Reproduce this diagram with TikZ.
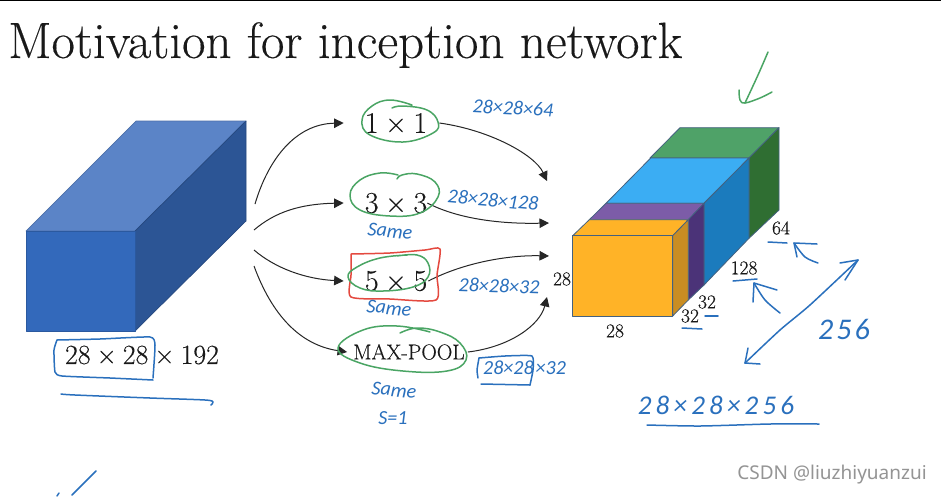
\documentclass[tikz,border=0pt]{standalone}
\usepackage{fontspec}
\usetikzlibrary{arrows.meta}
\setmainfont{Latin Modern Roman}[FakeBold=0.25]
\newfontfamily\handf{Carlito}
\newfontfamily\markf{Noto Sans}
\definecolor{hblue}{HTML}{2A70BD}
\definecolor{hgreen}{HTML}{4AA564}
\definecolor{hred}{HTML}{E4493F}
\definecolor{intop}{HTML}{5B84C7}
\definecolor{inside}{HTML}{2C5595}
\definecolor{infront}{HTML}{3369BB}
\definecolor{gtop}{HTML}{4FA268}
\definecolor{gside}{HTML}{2F6E32}
\definecolor{btop}{HTML}{3BADF3}
\definecolor{bside}{HTML}{1B7BBD}
\definecolor{ptop}{HTML}{7C5CA8}
\definecolor{pside}{HTML}{4B3378}
\definecolor{otop}{HTML}{FFB327}
\definecolor{oside}{HTML}{C98D23}
\definecolor{edgeblue}{HTML}{44617F}
\newcommand{\fs}[1]{\fontsize{#1}{#1}\selectfont}
\newcommand{\tm}{\kern.22em×\kern.22em}
\tikzset{
  face/.style={draw=#1!85!black,fill=#1,line width=.7pt,line join=round},
  edgeface/.style={draw=edgeblue,fill=#1,line width=.8pt,line join=round},
  opnode/.style={inner sep=0pt,font=\fs{30},text=black!90},
  dim/.style={inner sep=0pt,font=\fs{19.5},text=black!90},
  conn/.style={draw=black!85,line width=1pt,-{Triangle[length=9.5pt,width=9.5pt]}},
  hand/.style={inner sep=0pt,text=hblue,font=\handf\itshape\fs{#1}},
  bluestroke/.style={draw=hblue,line width=1.5pt,line cap=round,line join=round},
  greenstroke/.style={draw=hgreen,line width=1.5pt,line cap=round,line join=round},
  redstroke/.style={draw=hred,line width=1.5pt,line cap=round,line join=round},
}
\begin{document}
\begin{tikzpicture}[x=1pt,y=-1pt]
\useasboundingbox (0,0) rectangle (941,496);
\fill[white] (0,0) rectangle (941,496);
\draw[black,line width=1.6pt] (0,.6) -- (941,.6);
\node[anchor=base west,inner sep=0pt,font=\fs{51},text=black!90] (title) at (8,58) {Motivation for inception network};

% input block
\path[face=intop] (26,231) -- (136,121) -- (246,121) -- (135,231) -- cycle;
\path[face=inside] (135,231) -- (246,121) -- (246,221) -- (135,331) -- cycle;
\path[face=infront] (26,231) rectangle (135,331);
\node[inner sep=0pt,font=\fs{27.8},text=black!90] (inlabel) at (142,355) {28\tm28\tm192};

% output block
\path[edgeface=gtop] (650,158) -- (680,127.7) -- (779,127.7) -- (749,158) -- cycle;
\path[edgeface=gside] (749,158) -- (779,127.7) -- (779,210) -- (749,238.3) -- cycle;
\path[edgeface=btop] (606,203.3) -- (650.7,158) -- (749,158) -- (704,203.3) -- cycle;
\path[edgeface=bside] (704,203.3) -- (749,158) -- (749,238.3) -- (704,285) -- cycle;
\path[edgeface=ptop] (589.3,219.7) -- (606,203.3) -- (704,203.3) -- (688.3,219.7) -- cycle;
\path[edgeface=pside] (688.3,219.7) -- (704,203.3) -- (704,285) -- (688.3,300) -- cycle;
\path[edgeface=otop] (572.7,235.7) -- (589.3,219.7) -- (688.3,219.7) -- (672.7,235.7) -- cycle;
\path[edgeface=oside] (672.7,235.7) -- (688.3,219.7) -- (688.3,300) -- (672.7,316) -- cycle;
\path[edgeface=otop] (572.7,235.7) rectangle (672.7,316);

\node[dim] (d28a) at (562,279) {28};
\node[dim] (d28b) at (615,331) {28};
\node[dim] (d32a) at (690,316) {32};
\node[dim] (d32b) at (707,302) {32};
\node[dim] (d128) at (744,268) {128};
\node[dim] (d64) at (781,228) {64};

% operations
\node[opnode,inner xsep=12pt] (n1) at (396,123) {1\tm1};
\node[opnode] (n3) at (396,203) {3\tm3};
\node[opnode,inner xsep=1pt] (n5) at (396,281) {5\tm5};
\node[opnode,font=\fs{21.5},inner xsep=3pt] (mp) at (409,352) {MAX-POOL};

% connectors
\coordinate (s1) at (255,204);
\coordinate (s2) at (254,230);
\coordinate (s3) at (254,250);
\coordinate (s4) at (254,266);
\coordinate (e1) at (547,181);
\coordinate (e2) at (549,223);
\coordinate (e3) at (549,256);
\coordinate (e4) at (547,297);
\draw[conn] (s1) .. controls (268,160) and (295,124) .. ([xshift=-9pt]n1.west);
\draw[conn] (s2) .. controls (275,212) and (300,204) .. ([xshift=-21pt]n3.west);
\draw[conn] (s3) .. controls (275,268) and (305,279) .. ([xshift=-20pt]n5.west);
\draw[conn] (s4) .. controls (272,315) and (300,345) .. ([xshift=-3pt]mp.west);
\draw[conn] (n1.east) .. controls (490,130) and (535,155) .. (e1);
\draw[conn] (n3.east) .. controls (460,220) and (505,224) .. (e2);
\draw[conn] (n5.east) .. controls (465,262) and (510,255) .. (e3);
\draw[conn] (mp.east) .. controls (510,347) and (540,325) .. (e4);

% red and green hand marks
\draw[redstroke] plot[smooth,tension=.4] coordinates {(351,254) (351,275) (351,297) (390,299) (436,300) (437,275) (440,249) (425,250) (390,253) (351,254)};
\draw[greenstroke] plot[smooth,tension=.7] coordinates {(412,105) (390,100) (372,106) (362,120) (370,135) (403,142) (433,133) (438,122) (427,110) (403,106) (392,108)};
\draw[greenstroke] plot[smooth,tension=.7] coordinates {(398,175) (380,173) (360,180) (350,195) (360,210) (390,216) (420,213) (438,197) (435,182) (417,174) (402,175) (397,179)};
\draw[greenstroke] plot[smooth,tension=.7] coordinates {(407,255) (380,258) (357,267) (348,277) (360,288) (383,291) (413,287) (428,277) (428,263) (417,255) (397,256)};
\draw[greenstroke] plot[smooth,tension=.7] coordinates {(430,332) (397,326) (363,330) (338,348) (360,363) (403,371) (447,371) (466,360) (460,343) (440,332) (417,328) (400,333)};
\draw[greenstroke] plot[smooth,tension=.6] coordinates {(768,52) (758,75) (745,103)};
\draw[greenstroke] plot[smooth,tension=.6] coordinates {(739,90) (740,100) (745,103) (760,98) (772,92)};

% handwritten labels
\node[hand=20,rotate=-3] (h1) at (513,108) {28×28×64};
\node[hand=20,rotate=-5] (h2) at (493,200) {28×28×128};
\node[hand=20,rotate=-6] (sa) at (390,231) {Same};
\node[hand=20,rotate=-6] (sb) at (389,308) {Same};
\node[hand=20,rotate=-2] (h3) at (499,286) {28×28×32};
\node[hand=20] (h4) at (524,368) {\kern1pt 28×28\kern2pt ×32};
\node[hand=20,rotate=-6] (sc) at (394,390) {Same};
\node[hand=20] (s1l) at (393,418) {S=1};
\node[hand=30] (h256) at (844,329) {2\kern3pt 5\kern3pt 6};
\node[hand=27] (htot) at (716,405) {2\kern4.2pt8\kern4.2pt×\kern4.2pt2\kern4.2pt8\kern4.2pt×\kern4.2pt2\kern4.2pt5\kern4.2pt6};
\node[inner sep=0pt,text=black!42,font=\markf\fs{19}] (mark) at (832,475) {CSDN @liuzhiyuanzui};

% blue hand marks
\draw[bluestroke] plot[smooth,tension=.3] coordinates {(57,340) (100,339) (150,337) (155,345) (153,378)};
\draw[bluestroke] plot[smooth,tension=.3] coordinates {(57,340) (54,350) (55,372) (62,376) (110,378) (153,380)};
\draw[bluestroke] plot[smooth,tension=.5] coordinates {(61,394) (75,395) (150,398) (205,400) (213,402) (211,405)};
\draw[bluestroke] (96,471) -- (72,495);
\draw[bluestroke] (59,493) -- (57,496);
\draw[bluestroke] plot[smooth,tension=.3] coordinates {(479,358) (505,356) (532,356) (533,370) (530,385)};
\draw[bluestroke] plot[smooth,tension=.3] coordinates {(479,358) (477,370) (478,378)};
\draw[bluestroke] (481,384) -- (530,385);
\draw[bluestroke] (768,242) -- (787,243);
\draw[bluestroke] (733,281) -- (757,279);
\draw[bluestroke] (682,328) -- (702,329);
\draw[bluestroke] (705,316) -- (718,316);
\draw[bluestroke] plot[smooth,tension=.5] coordinates {(818,263) (805,257) (794,243)};
\draw[bluestroke] (797,257) -- (794,243) -- (817,244);
\draw[bluestroke] plot[smooth,tension=.5] coordinates {(780,313) (765,300) (754,283)};
\draw[bluestroke] (753,302) -- (754,283) -- (777,290);
\draw[bluestroke] plot[smooth,tension=.4] coordinates {(858,260) (810,305) (780,330) (745,363)};
\draw[bluestroke] (840,263) -- (858,260) -- (845,280);
\draw[bluestroke] (748,348) -- (745,363) -- (760,364);
\draw[bluestroke] plot[smooth,tension=.4] coordinates {(647,425) (700,426) (770,424) (819,424)};
\end{tikzpicture}
\end{document}
